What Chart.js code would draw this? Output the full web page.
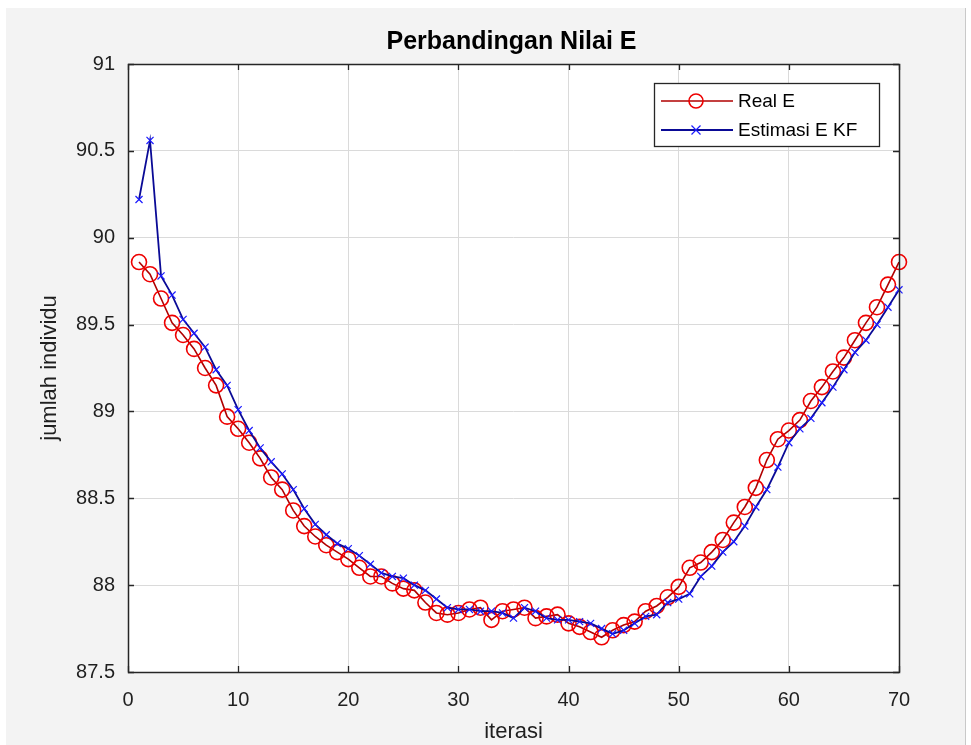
<!DOCTYPE html>
<html>
<head>
<meta charset="utf-8">
<script src="https://cdn.jsdelivr.net/npm/chart.js@4/dist/chart.umd.min.js"></script>
<style>
  html, body { margin: 0; padding: 0; background: #ffffff; }
  #wrap { position: relative; width: 971px; height: 745px; }
  canvas { display: block; }
</style>
</head>
<body>
<div id="wrap"><canvas id="c" width="971" height="745"></canvas></div>
<script>
// ---- data ----
const chartTitle = 'Perbandingan Nilai E';
const xLabel = 'iterasi';
const yLabel = 'jumlah individu';
const seriesNames = ['Real E', 'Estimasi E KF'];

const iterasi = [1,2,3,4,5,6,7,8,9,10,11,12,13,14,15,16,17,18,19,20,
  21,22,23,24,25,26,27,28,29,30,31,32,33,34,35,36,37,38,39,40,
  41,42,43,44,45,46,47,48,49,50,51,52,53,54,55,56,57,58,59,60,
  61,62,63,64,65,66,67,68,69,70];

const realE = [89.86,89.79,89.65,89.51,89.44,89.36,89.25,89.15,88.97,88.90,
  88.82,88.73,88.62,88.55,88.43,88.34,88.28,88.23,88.19,88.15,
  88.10,88.05,88.05,88.01,87.98,87.97,87.90,87.84,87.83,87.84,
  87.86,87.87,87.80,87.85,87.86,87.87,87.81,87.82,87.83,87.78,
  87.76,87.73,87.70,87.74,87.77,87.79,87.85,87.88,87.93,87.99,
  88.10,88.13,88.19,88.26,88.36,88.45,88.56,88.72,88.84,88.89,
  88.95,89.06,89.14,89.23,89.31,89.41,89.51,89.60,89.73,89.86];

const estimasiE = [90.22,90.56,89.78,89.67,89.53,89.45,89.37,89.24,89.15,89.01,
  88.89,88.79,88.71,88.64,88.55,88.44,88.35,88.29,88.24,88.21,
  88.17,88.12,88.07,88.05,88.04,88.00,87.97,87.92,87.87,87.86,
  87.86,87.85,87.85,87.84,87.81,87.87,87.85,87.81,87.80,87.80,
  87.79,87.78,87.75,87.72,87.74,87.78,87.82,87.83,87.90,87.92,
  87.95,88.05,88.11,88.19,88.25,88.34,88.45,88.55,88.68,88.82,
  88.90,88.96,89.05,89.14,89.24,89.34,89.41,89.50,89.60,89.70];

const xTicks = [0,10,20,30,40,50,60,70];
const yTicks = [87.5,88,88.5,89,89.5,90,90.5,91];
const yTickLabels = ['87.5','88','88.5','89','89.5','90','90.5','91'];

// ---- styling ----
const FONT = "'Liberation Sans', Arial, sans-serif";
const TEXT = '#1f1f1f';
const AXIS = '#262626';

const toXY = (vals) => iterasi.map((x, i) => ({ x: x, y: vals[i] }));

const backgroundPlugin = {
  id: 'bg',
  beforeDraw(chart) {
    const ctx = chart.ctx;
    ctx.save();
    ctx.fillStyle = '#ffffff';
    ctx.fillRect(0, 0, chart.width, chart.height);
    ctx.fillStyle = '#f3f3f3';
    ctx.fillRect(6, 8, 959, chart.height - 8);
    ctx.fillStyle = '#c9c9c9';
    ctx.fillRect(965, 8, 1, chart.height - 8);
    const a = chart.chartArea;
    ctx.fillStyle = '#ffffff';
    ctx.fillRect(a.left, a.top, a.right - a.left, a.bottom - a.top);
    ctx.restore();
  }
};

const boxPlugin = {
  id: 'box',
  afterDatasetsDraw(chart) {
    const ctx = chart.ctx;
    const a = chart.chartArea;
    const xs = chart.scales.x, ys = chart.scales.y;
    const tl = 6;
    ctx.save();
    ctx.strokeStyle = AXIS;
    ctx.lineWidth = 1.3;
    ctx.beginPath();
    xs.ticks.forEach(t => {
      const p = Math.round(xs.getPixelForValue(t.value)) + 0.5;
      ctx.moveTo(p, a.bottom); ctx.lineTo(p, a.bottom - tl);
      ctx.moveTo(p, a.top); ctx.lineTo(p, a.top + tl);
    });
    ys.ticks.forEach(t => {
      const p = Math.round(ys.getPixelForValue(t.value)) + 0.5;
      ctx.moveTo(a.left, p); ctx.lineTo(a.left + tl, p);
      ctx.moveTo(a.right, p); ctx.lineTo(a.right - tl, p);
    });
    ctx.stroke();
    ctx.lineWidth = 1.5;
    ctx.strokeRect(Math.round(a.left) + 0.5, Math.round(a.top) + 0.5,
      Math.round(a.right - a.left), Math.round(a.bottom - a.top));
    ctx.restore();
  }
};

const titleLegendPlugin = {
  id: 'titleLegend',
  afterDraw(chart) {
    const ctx = chart.ctx;
    const a = chart.chartArea;
    ctx.save();
    // title
    ctx.fillStyle = '#000000';
    ctx.font = 'bold 25px ' + FONT;
    ctx.textAlign = 'center';
    ctx.textBaseline = 'middle';
    ctx.fillText(chartTitle, (a.left + a.right) / 2 - 2, a.top - 22);

    // legend box
    const bw = 225, bh = 63;
    const bx = a.right - 20 - bw, by = a.top + 19;
    ctx.fillStyle = '#ffffff';
    ctx.fillRect(bx, by, bw, bh);
    ctx.strokeStyle = AXIS;
    ctx.lineWidth = 1.3;
    ctx.strokeRect(Math.round(bx) + 0.5, Math.round(by) + 0.5, bw, bh);

    chart.data.datasets.forEach((ds, i) => {
      const cy = by + 18 + i * 29;
      const x0 = bx + 7, x1 = bx + 79, cx = bx + 42;
      ctx.strokeStyle = ds.borderColor;
      ctx.lineWidth = ds.borderWidth;
      ctx.beginPath(); ctx.moveTo(x0, cy); ctx.lineTo(x1, cy); ctx.stroke();
      ctx.strokeStyle = ds.pointBorderColor;
      ctx.lineWidth = ds.pointBorderWidth;
      ctx.beginPath();
      if (ds.pointStyle === 'circle') {
        ctx.arc(cx, cy, 7, 0, Math.PI * 2);
      } else {
        const r = 4.5;
        ctx.moveTo(cx - r, cy - r); ctx.lineTo(cx + r, cy + r);
        ctx.moveTo(cx - r, cy + r); ctx.lineTo(cx + r, cy - r);
      }
      ctx.stroke();
      ctx.fillStyle = '#000000';
      ctx.font = '19px ' + FONT;
      ctx.textAlign = 'left';
      ctx.textBaseline = 'middle';
      ctx.fillText(ds.label, bx + 84, cy + 1);
    });
    ctx.restore();
  }
};

new Chart(document.getElementById('c'), {
  type: 'line',
  data: {
    datasets: [
      {
        label: seriesNames[0],
        data: toXY(realE),
        borderColor: '#b00000',
        borderWidth: 1.6,
        pointStyle: 'circle',
        pointRadius: 7.5,
        pointBorderWidth: 1.6,
        pointBorderColor: '#ee0000',
        pointBackgroundColor: 'rgba(0,0,0,0)',
        tension: 0,
        clip: false,
        order: 2
      },
      {
        label: seriesNames[1],
        data: toXY(estimasiE),
        borderColor: '#0a0a96',
        borderWidth: 1.8,
        pointStyle: 'crossRot',
        pointRadius: 5,
        pointBorderWidth: 1.2,
        pointBorderColor: '#1a1aff',
        pointBackgroundColor: 'rgba(0,0,0,0)',
        tension: 0,
        clip: false,
        order: 1
      }
    ]
  },
  options: {
    responsive: false,
    animation: false,
    events: [],
    layout: { padding: { left: 0, right: 72, top: 64, bottom: 0 } },
    plugins: {
      legend: { display: false },
      title: { display: false },
      tooltip: { enabled: false }
    },
    scales: {
      x: {
        type: 'linear',
        min: xTicks[0],
        max: xTicks[xTicks.length - 1],
        afterBuildTicks(scale) { scale.ticks = xTicks.map(v => ({ value: v })); },
        afterFit(scale) { scale.height = 73; },
        grid: { color: '#dadada', lineWidth: 1, drawTicks: false },
        border: { display: false },
        ticks: {
          color: TEXT,
          font: { family: FONT, size: 20 },
          padding: 16,
          maxRotation: 0,
          callback: (v) => String(v)
        },
        title: {
          display: true,
          text: xLabel,
          color: TEXT,
          font: { family: FONT, size: 22 },
          padding: { top: 0, bottom: 0 }
        }
      },
      y: {
        type: 'linear',
        min: yTicks[0],
        max: yTicks[yTicks.length - 1],
        afterBuildTicks(scale) { scale.ticks = yTicks.map(v => ({ value: v })); },
        afterFit(scale) { scale.width = 128; },
        grid: { color: '#dadada', lineWidth: 1, drawTicks: false },
        border: { display: false },
        ticks: {
          color: TEXT,
          font: { family: FONT, size: 20 },
          padding: 13,
          callback: (v) => {
            const i = yTicks.indexOf(v);
            return i >= 0 ? yTickLabels[i] : String(v);
          }
        },
        title: {
          display: true,
          text: yLabel,
          color: TEXT,
          font: { family: FONT, size: 22 },
          padding: { top: 37, bottom: 0 }
        }
      }
    }
  },
  plugins: [backgroundPlugin, boxPlugin, titleLegendPlugin]
});
</script>
</body>
</html>
